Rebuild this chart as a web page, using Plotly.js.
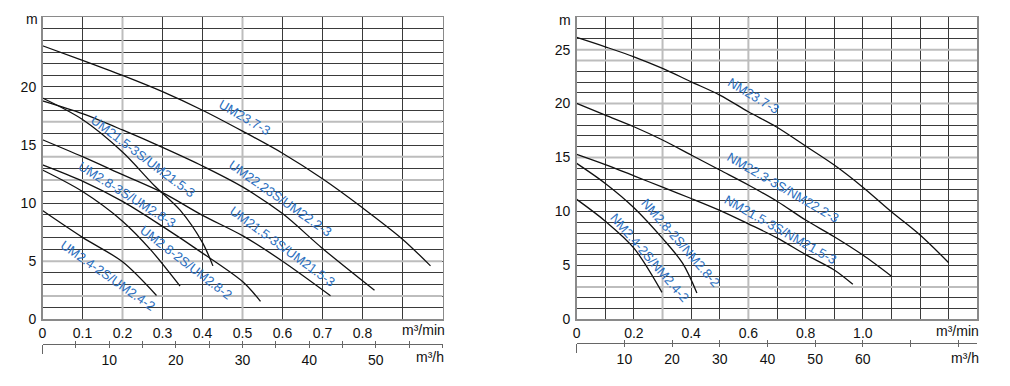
<!DOCTYPE html>
<html>
<head>
<meta charset="utf-8">
<script src="https://cdn.plot.ly/plotly-3.0.1.min.js"></script>
<style>html,body{margin:0;padding:0;background:#fff;}#chart{width:1010px;height:386px;}</style>
</head>
<body>
<div id="chart"></div>
<script>
// ---------- LEFT CHART DATA (Q in m³/min, H in m) ----------
const UM237_Q = [0, 0.1, 0.2, 0.3, 0.4, 0.5, 0.6, 0.7, 0.8, 0.9, 0.97];
const UM237_H = [23.55, 22.3, 21.0, 19.6, 18.0, 16.2, 14.3, 12.1, 9.6, 6.9, 4.6];
const UM222_Q = [0, 0.1, 0.2, 0.3, 0.4, 0.5, 0.6, 0.7, 0.83];
const UM222_H = [18.8, 17.7, 16.3, 14.8, 13.2, 11.4, 9.1, 6.1, 2.5];
const UM215A_Q = [0, 0.1, 0.2, 0.28, 0.344, 0.4, 0.426];
const UM215A_H = [19.05, 17.2, 14.4, 11.5, 9.4, 6.6, 4.6];
const UM215B_Q = [0, 0.1, 0.2, 0.3, 0.4, 0.5, 0.6, 0.72];
const UM215B_H = [15.46, 14.0, 12.45, 10.9, 8.95, 7.2, 5.0, 2.03];
const UM283_Q = [0, 0.1, 0.2, 0.3, 0.4, 0.5, 0.545];
const UM283_H = [13.3, 11.9, 10.15, 8.0, 5.7, 3.25, 1.55];
const UM282_Q = [0, 0.1, 0.2, 0.27, 0.344];
const UM282_H = [12.85, 11.0, 8.45, 6.0, 2.85];
const UM242_Q = [0, 0.1, 0.2, 0.285];
const UM242_H = [9.36, 7.05, 4.95, 2.05];

// ---------- RIGHT CHART DATA ----------
const NM237_Q = [0, 0.1, 0.2, 0.3, 0.4, 0.5, 0.6, 0.7, 0.8, 0.9, 1.0, 1.1, 1.2, 1.3];
const NM237_H = [26.13, 25.26, 24.34, 23.26, 22.02, 20.79, 19.24, 17.8, 16.06, 14.3, 12.25, 9.97, 7.81, 5.25];
const NM222_Q = [0, 0.1, 0.2, 0.3, 0.4, 0.5, 0.6, 0.7, 0.8, 0.9, 1.0, 1.1];
const NM222_H = [20.02, 18.93, 17.85, 16.62, 15.23, 13.84, 12.45, 10.95, 9.2, 7.66, 5.96, 4.0];
const NM215_Q = [0, 0.1, 0.2, 0.3, 0.4, 0.5, 0.6, 0.7, 0.8, 0.9, 0.965];
const NM215_H = [15.3, 14.35, 13.3, 12.25, 11.2, 10.1, 8.85, 7.55, 6.0, 4.57, 3.24];
const NM282_Q = [0, 0.1, 0.2, 0.3, 0.37, 0.42];
const NM282_H = [14.46, 12.6, 10.35, 7.5, 5.2, 2.45];
const NM242_Q = [0, 0.1, 0.2, 0.298];
const NM242_H = [11.12, 9.1, 6.6, 2.5];

// ---------- CURVE LABELS ----------
const leftLabels = ["UM23.7-3", "UM21.5-3S/UM21.5-3", "UM22.23S/UM22.2-3", "UM21.5-3S/UM21.5-3", "UM2.8-3S/UM2.8-3", "UM2.8-2S/UM2.8-2", "UM2.4-2S/UM2.4-2"];
const leftLabelQ = [0.499, 0.244, 0.589, 0.594, 0.206, 0.354, 0.169];
const leftLabelH = [16.99, 13.71, 10.09, 5.96, 10.44, 4.67, 4.07];
const leftLabelAngle = [30, 37, 35, 36, 32, 37.5, 35];
const rightLabels = ["NM23.7-3", "NM22.3-3S/NM22.2-3", "NM21.5-3S/NM21.5-3", "NM2.8-2S/NM2.8-2", "NM2.4-2S/NM2.4-2"];
const rightLabelQ = [0.609, 0.714, 0.704, 0.347, 0.239];
const rightLabelH = [20.42, 11.92, 7.97, 6.79, 5.4];
const rightLabelAngle = [31, 30, 29.5, 49, 49];

// ---------- AXIS TICKS ----------
const leftQTicks = [0, 0.1, 0.2, 0.3, 0.4, 0.5, 0.6, 0.7, 0.8, 0.9];
const leftQText = ["0", "0.1", "0.2", "0.3", "0.4", "0.5", "0.6", "0.7", "0.8", ""];
const rightQTicks = [0, 0.1, 0.2, 0.3, 0.4, 0.5, 0.6, 0.7, 0.8, 0.9, 1.0, 1.1, 1.2, 1.3];
const rightQText = ["0", "", "0.2", "", "0.4", "", "0.6", "", "0.8", "", "1.0", "", "", ""];
const leftHMax = 26, rightHMax = 28;
const leftHLabelled = [0, 5, 10, 15, 20];
const rightHLabelled = [0, 5, 10, 15, 20, 25];
const leftFlowHTicks = [0, 5, 10, 15, 20, 25, 30, 35, 40, 45, 50, 55, 60];
const leftFlowHLabels = [10, 20, 30, 40, 50];
const rightFlowHTicks = [0, 10, 20, 30, 40, 50, 60, 70, 80];
const rightFlowHLabels = [10, 20, 30, 40, 50, 60];
// grid lines that look lighter/thicker in the scan
const leftGreyH = [17, 14, 12, 5, 2];
const leftGreyQ = [0.2, 0.5];
const rightGreyH = [25, 24, 20, 15, 3];
const rightGreyQ = [0.3, 0.6];

// ---------- LAYOUT GEOMETRY ----------
const W = 1010, Hh = 386;
const fx = p => p / W, fy = p => 1 - p / Hh;
const leftDom = [fx(42.5), fx(442.5)];
const rightDom = [fx(576.7), fx(977.3)];
const yDom = [fy(319.3), fy(17.3)];
const FONT = "Liberation Sans, Arial, sans-serif";
const GRID = "#3a3a3a";
const GREY = "#bdbdbd";
const BLUE = "#2a6ebe";

function hTicks(max) { const a = []; for (let i = 0; i < max; i++) a.push(i); return a; }
function hText(max, lab) { return hTicks(max).map(v => lab.includes(v) ? String(v) : ""); }

const curves = [
  [UM237_Q, UM237_H, 'x', 'y'], [UM222_Q, UM222_H, 'x', 'y'], [UM215A_Q, UM215A_H, 'x', 'y'],
  [UM215B_Q, UM215B_H, 'x', 'y'], [UM283_Q, UM283_H, 'x', 'y'], [UM282_Q, UM282_H, 'x', 'y'],
  [UM242_Q, UM242_H, 'x', 'y'],
  [NM237_Q, NM237_H, 'x2', 'y2'], [NM222_Q, NM222_H, 'x2', 'y2'], [NM215_Q, NM215_H, 'x2', 'y2'],
  [NM282_Q, NM282_H, 'x2', 'y2'], [NM242_Q, NM242_H, 'x2', 'y2']
];
const data = curves.map(c => ({
  x: c[0], y: c[1], xaxis: c[2], yaxis: c[3], type: 'scatter', mode: 'lines',
  line: {color: '#111', width: 1.3, shape: 'spline', smoothing: 0.9}, hoverinfo: 'skip', showlegend: false
}));
['x3','x4','x5'].forEach(a => data.push({x: [], y: [], xaxis: a, yaxis: 'y', type: 'scatter', showlegend: false}));
['x6','x7','x8'].forEach(a => data.push({x: [], y: [], xaxis: a, yaxis: 'y2', type: 'scatter', showlegend: false}));

function mainX(dom, ticks, text, max, anchor) {
  return {domain: dom, range: [0, max], anchor: anchor, tickmode: 'array', tickvals: ticks, ticktext: text,
    showgrid: true, gridcolor: GRID, gridwidth: 1, zeroline: false, showline: true, mirror: true,
    linecolor: '#8a8a8a', linewidth: 1.5, ticks: '', tickfont: {family: FONT, size: 14, color: '#111'}, fixedrange: true};
}
function mainY(max, lab, anchor) {
  return {domain: yDom, range: [0, max], anchor: anchor, tickmode: 'array', tickvals: hTicks(max), ticktext: hText(max, lab),
    showgrid: true, gridcolor: GRID, gridwidth: 1, zeroline: false, showline: true, mirror: true,
    linecolor: '#8a8a8a', linewidth: 1.5, ticks: '', ticklabelstandoff: 2, tickfont: {family: FONT, size: 14, color: '#111'}, fixedrange: true};
}
function flowAxis(over, max, pos, ticks, labels, dir, len, showLab, showLine) {
  return {overlaying: over, anchor: 'free', position: pos, range: [0, max], side: 'bottom',
    tickmode: 'array', tickvals: ticks, ticktext: ticks.map(v => labels.includes(v) ? String(v) : ""),
    showticklabels: showLab, ticks: dir, ticklen: len, tickwidth: 1, tickcolor: '#666',
    showgrid: false, zeroline: false, showline: showLine, linecolor: '#666', linewidth: 1,
    tickfont: {family: FONT, size: 14, color: '#111'}, fixedrange: true};
}

const posL = fy(344), posR = fy(342.7);
const annotations = [];
function addLabels(texts, qs, hs, angs, offs, xr, yr) {
  texts.forEach((t, i) => {
    const a = angs[i] * Math.PI / 180;
    annotations.push({x: qs[i], y: hs[i], xref: xr, yref: yr, text: t, showarrow: false, textangle: angs[i],
      xshift: offs[i] * Math.sin(a), yshift: offs[i] * Math.cos(a),
      font: {family: FONT, size: 13, color: BLUE}});
  });
}
addLabels(leftLabels, leftLabelQ, leftLabelH, leftLabelAngle, [5, 5, 4, 4, 4, 3, -4], 'x', 'y');
addLabels(rightLabels, rightLabelQ, rightLabelH, rightLabelAngle, [4, 4, 4, 6, 6], 'x2', 'y2');
const units = [
  ["m", 32, 19], ["m³/min", 423, 330], ["m³/h", 430, 357],
  ["m", 565, 20], ["m³/min", 957, 331], ["m³/h", 965, 358]
];
units.forEach(u => annotations.push({x: fx(u[1]), y: fy(u[2]), xref: 'paper', yref: 'paper', text: u[0],
  showarrow: false, xanchor: 'center', yanchor: 'middle', font: {family: FONT, size: 14, color: '#111'}}));

const shapes = [];
function greyLines(hs, qs, xr, yr, qmax, hmax) {
  hs.forEach(h => shapes.push({type: 'line', xref: xr, yref: yr, x0: 0, x1: qmax, y0: h, y1: h, layer: 'between', line: {color: GREY, width: 2}}));
  qs.forEach(q => shapes.push({type: 'line', xref: xr, yref: yr, x0: q, x1: q, y0: 0, y1: hmax, layer: 'between', line: {color: GREY, width: 2}}));
}
greyLines(leftGreyH, leftGreyQ, 'x', 'y', 1.0, leftHMax);
greyLines(rightGreyH, rightGreyQ, 'x2', 'y2', 1.4, rightHMax);

const layout = {
  width: W, height: Hh, margin: {l: 0, r: 0, t: 0, b: 0}, paper_bgcolor: '#fff', plot_bgcolor: '#fff',
  showlegend: false,
  xaxis: mainX(leftDom, leftQTicks, leftQText, 1.0, 'y'),
  yaxis: mainY(leftHMax, leftHLabelled, 'x'),
  xaxis2: mainX(rightDom, rightQTicks, rightQText, 1.4, 'y2'),
  yaxis2: mainY(rightHMax, rightHLabelled, 'x2'),
  xaxis3: flowAxis('x', 60, posL, leftFlowHTicks, leftFlowHLabels, 'outside', 3, true, true),
  xaxis4: flowAxis('x', 60, posL, leftFlowHTicks, [], 'inside', 3, false, false),
  xaxis5: flowAxis('x', 60, posL, [0], [], 'outside', 9, false, false),
  xaxis6: flowAxis('x2', 84, posR, rightFlowHTicks, rightFlowHLabels, 'outside', 3, true, true),
  xaxis7: flowAxis('x2', 84, posR, rightFlowHTicks, [], 'inside', 3, false, false),
  xaxis8: flowAxis('x2', 84, posR, [0], [], 'outside', 9, false, false),
  annotations: annotations,
  shapes: shapes
};
Plotly.newPlot('chart', data, layout, {staticPlot: true, displayModeBar: false});
</script>
</body>
</html>
